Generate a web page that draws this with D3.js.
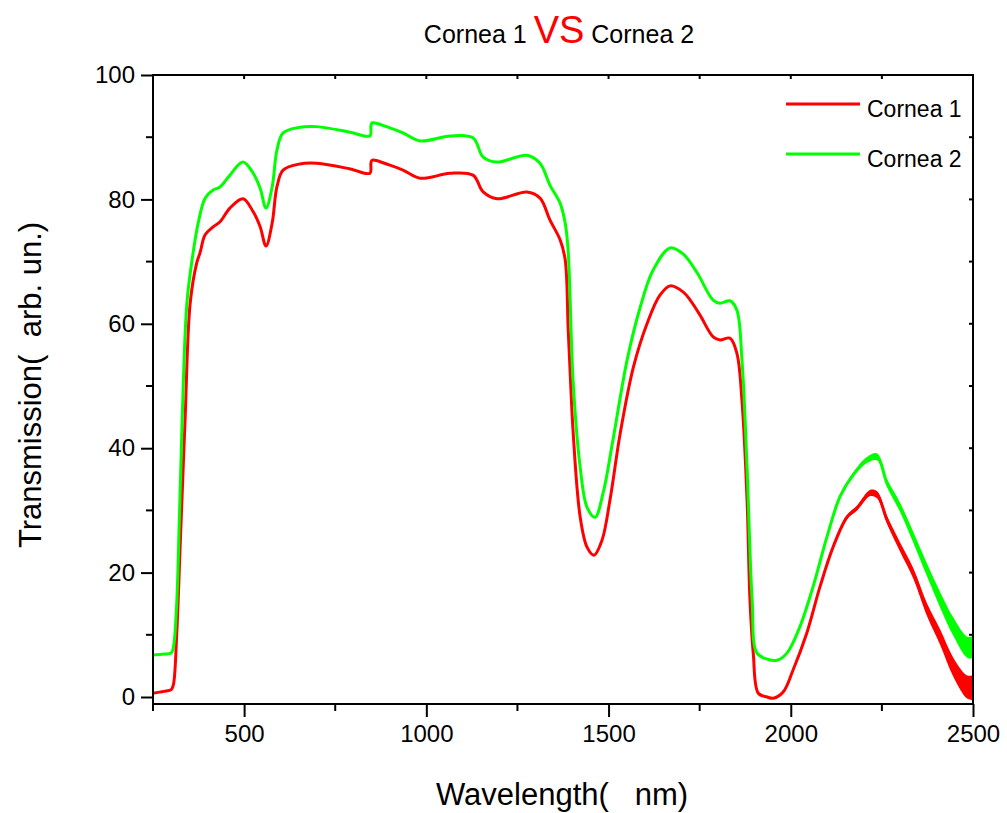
<!DOCTYPE html>
<html>
<head>
<meta charset="utf-8">
<script src="https://cdn.jsdelivr.net/npm/d3@7"></script>
<style>
  body { margin: 0; background: #fff; }
  svg { display: block; font-family: "Liberation Sans", Arial, sans-serif; }
</style>
</head>
<body>
<div id="chart"></div>
<script>
// wavelength (nm) and transmission values
var wl1 = [250, 280, 300, 306, 315, 325, 338, 352, 370, 379, 393, 415, 434, 461, 497, 525, 544, 560, 577, 590, 607, 653, 700, 791, 845, 848, 851, 900, 936, 983, 1065, 1128, 1156, 1194, 1276, 1312, 1339, 1367, 1381, 1389, 1394, 1403, 1422, 1441, 1460, 1482, 1504, 1532, 1568, 1606, 1641, 1669, 1705, 1724, 1751, 1787, 1806, 1833, 1852, 1866, 1880, 1888, 1897, 1911, 1935, 1952, 1979, 2006, 2044, 2080, 2116, 2154, 2182, 2218, 2237, 2264, 2300, 2336, 2374, 2410, 2446, 2484, 2500];
var cornea1 = [0.6, 0.9, 1.2, 2, 10, 25, 44.5, 63.3, 69.8, 71.4, 74.3, 75.6, 76.4, 78.6, 80.1, 78.0, 75.6, 72.5, 76.2, 82.0, 84.7, 85.7, 85.8, 84.9, 84.2, 85.8, 86.3, 85.5, 84.7, 83.4, 84.2, 83.9, 81.2, 80.1, 81.2, 80.2, 76.7, 73.5, 70.3, 59.5, 53, 42.4, 29, 24.1, 22.8, 25.2, 31.7, 42.4, 53, 60.1, 64.6, 66.1, 65.1, 63.8, 61.4, 57.9, 57.4, 57.7, 55.3, 47.7, 31.7, 15.6, 7.1, 0.6, 0, -0.2, 0.8, 4.3, 10.3, 17.7, 24.1, 28.9, 30.4, 32.8, 32.5, 28.5, 24.1, 19.9, 14, 9.6, 4.8, 1.6, 1.5];

var wl2 = [250, 280, 300, 306, 315, 322, 330, 343, 360, 374, 393, 415, 434, 461, 497, 525, 544, 560, 577, 590, 607, 653, 700, 791, 845, 848, 851, 900, 936, 983, 1065, 1128, 1156, 1194, 1276, 1312, 1339, 1367, 1381, 1389, 1403, 1422, 1441, 1463, 1485, 1512, 1551, 1587, 1622, 1669, 1705, 1743, 1787, 1806, 1833, 1852, 1866, 1880, 1894, 1907, 1935, 1962, 1990, 2025, 2061, 2099, 2135, 2171, 2209, 2237, 2264, 2300, 2336, 2374, 2410, 2446, 2484, 2500];
var cornea2 = [6.75, 6.9, 7.1, 8, 15, 28, 44.5, 63.3, 71.4, 76.2, 80.2, 81.5, 82.0, 83.9, 86.0, 84.2, 81.8, 78.6, 82.0, 87.9, 90.7, 91.6, 91.7, 90.8, 90.2, 91.8, 92.3, 91.5, 90.7, 89.4, 90.2, 89.9, 86.8, 86.0, 87.1, 85.8, 82.3, 79.4, 76.2, 71.9, 50.5, 37, 30.5, 28.9, 32.8, 41.3, 54.2, 62.7, 68.6, 72.2, 71.2, 68.2, 63.8, 63.3, 63.7, 62.2, 54.2, 37, 15.6, 7.1, 6.1, 5.9, 7.1, 11.3, 17.7, 25.7, 32.2, 35.7, 38.1, 38.6, 34.4, 30.5, 25.7, 20.4, 15.6, 11.3, 8, 8];

// half-width of the noisy band seen on the long-wavelength tail (arb. un.)
var noiseWl = [2000, 2150, 2250, 2350, 2420, 2500];
var noise1 = [0, 0.3, 0.6, 0.9, 1.3, 2.0];
var noise2 = [0, 0.3, 0.6, 0.9, 1.3, 1.8];

var seriesNames = ["Cornea 1", "Cornea 2"];
var seriesColors = ["#ff0000", "#00ff00"];
var xTicks = [500, 1000, 1500, 2000, 2500];
var yTicks = [0, 20, 40, 60, 80, 100];

var width = 1007, height = 813;
var margin = {left: 153, right: 34, top: 75, bottom: 109};

var svg = d3.select("#chart").append("svg")
    .attr("width", width).attr("height", height);

var x = d3.scaleLinear().domain([250, 2500])
    .range([margin.left, width - margin.right]);
var y = d3.scaleLinear().domain([-1.125, 100])
    .range([height - margin.bottom, margin.top]);

var x0 = margin.left, x1 = width - margin.right;
var y0 = height - margin.bottom, y1 = margin.top;

// minor ticks
var xMinor = d3.range(250, 2501, 250);
var yMinor = d3.range(0, 101, 10);

// bottom axis, ticks outward
var gx = svg.append("g").attr("transform", "translate(0," + y0 + ")")
    .call(d3.axisBottom(x).tickValues(xTicks).tickFormat(d3.format("d"))
        .tickSize(13).tickSizeOuter(0).tickPadding(8));
gx.selectAll(".tick text").attr("font-size", "24px").attr("font-family", "Liberation Sans, Arial");
gx.selectAll(".tick line").attr("stroke-width", 2);
gx.select(".domain").remove();
svg.append("g").selectAll("line").data(xMinor.filter(function(d) { return xTicks.indexOf(d) < 0; }))
    .enter().append("line")
    .attr("x1", function(d) { return x(d); }).attr("x2", function(d) { return x(d); })
    .attr("y1", y0).attr("y2", y0 + 7)
    .attr("stroke", "black").attr("stroke-width", 2);

// left axis, ticks outward
var gy = svg.append("g").attr("transform", "translate(" + x0 + ",0)")
    .call(d3.axisLeft(y).tickValues(yTicks).tickFormat(d3.format("d"))
        .tickSize(12).tickSizeOuter(0).tickPadding(6));
gy.selectAll(".tick text").attr("font-size", "24px").attr("font-family", "Liberation Sans, Arial");
gy.selectAll(".tick line").attr("stroke-width", 2);
gy.select(".domain").remove();
svg.append("g").selectAll("line").data(yMinor.filter(function(d) { return yTicks.indexOf(d) < 0; }))
    .enter().append("line")
    .attr("x1", x0 - 7).attr("x2", x0)
    .attr("y1", function(d) { return y(d); }).attr("y2", function(d) { return y(d); })
    .attr("stroke", "black").attr("stroke-width", 2);

// top and right: small inward ticks
svg.append("g").selectAll("line").data(xMinor).enter().append("line")
    .attr("x1", function(d) { return x(d); }).attr("x2", function(d) { return x(d); })
    .attr("y1", y1).attr("y2", y1 + 4)
    .attr("stroke", "black").attr("stroke-width", 2);
svg.append("g").selectAll("line").data(yMinor).enter().append("line")
    .attr("x1", x1 - 4).attr("x2", x1)
    .attr("y1", function(d) { return y(d); }).attr("y2", function(d) { return y(d); })
    .attr("stroke", "black").attr("stroke-width", 2);

// curves
var line = d3.line()
    .x(function(d) { return x(d[0]); })
    .y(function(d) { return y(d[1]); })
    .curve(d3.curveCatmullRom.alpha(0.5));

var noiseScales = [
    d3.scaleLinear().domain(noiseWl).range(noise1).clamp(true),
    d3.scaleLinear().domain(noiseWl).range(noise2).clamp(true)
];

var series = [d3.zip(wl1, cornea1), d3.zip(wl2, cornea2)];

// noisy band around the tail
series.forEach(function(s, i) {
    var tail = s.filter(function(d) { return d[0] >= 2000; });
    var band = d3.area()
        .x(function(d) { return x(d[0]); })
        .y0(function(d) { return y(d[1] - noiseScales[i](d[0])); })
        .y1(function(d) { return y(d[1] + noiseScales[i](d[0])); })
        .curve(d3.curveCatmullRom.alpha(0.5));
    svg.append("path").attr("d", band(tail))
        .attr("fill", seriesColors[i]).attr("stroke", "none");
});

svg.append("g").selectAll("path").data(series).enter().append("path")
    .attr("d", line)
    .attr("fill", "none")
    .attr("stroke", function(d, i) { return seriesColors[i]; })
    .attr("stroke-width", 3)
    .attr("stroke-linejoin", "round");

// frame
svg.append("rect").attr("x", x0).attr("y", y1)
    .attr("width", x1 - x0).attr("height", y0 - y1)
    .attr("fill", "none").attr("stroke", "black").attr("stroke-width", 2);

// legend
var legend = svg.append("g").selectAll("g").data(seriesNames).enter().append("g")
    .attr("transform", function(d, i) { return "translate(786," + (104 + i * 50) + ")"; });
legend.append("line").attr("x1", 0).attr("x2", 74).attr("y1", 0).attr("y2", 0)
    .attr("stroke", function(d, i) { return seriesColors[i]; }).attr("stroke-width", 3);
legend.append("text").text(function(d) { return d; })
    .attr("x", 81).attr("y", 13).attr("font-size", "23px");

// title
var title = svg.append("text").attr("x", 559).attr("y", 43)
    .attr("text-anchor", "middle").attr("font-size", "25px");
title.append("tspan").text("Cornea 1 ");
title.append("tspan").text("VS").attr("fill", "#ff0000").attr("font-size", "38px");
title.append("tspan").text(" Cornea 2");

// axis titles
svg.append("text").attr("x", 562).attr("y", 805)
    .attr("text-anchor", "middle").attr("font-size", "31px")
    .text("Wavelength(\u00a0\u00a0\u00a0nm)");
svg.append("text")
    .attr("transform", "translate(41,385) rotate(-90)")
    .attr("text-anchor", "middle").attr("font-size", "31px")
    .text("Transmission(\u00a0\u00a0arb. un.)");
</script>
</body>
</html>
